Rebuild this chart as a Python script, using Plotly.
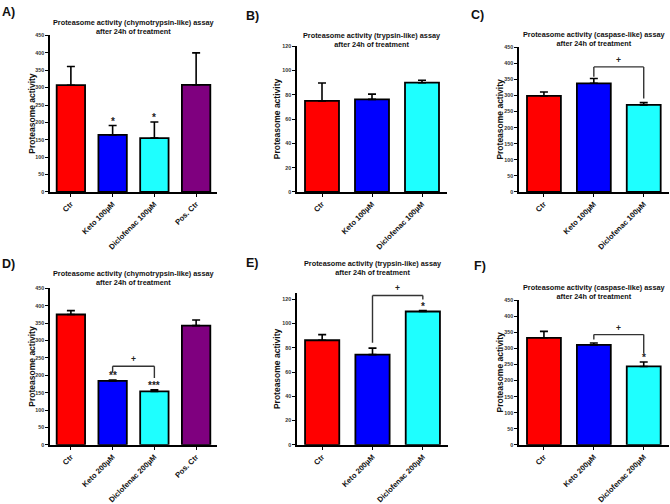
import plotly.graph_objects as go

# ---------------- data ----------------
cats_A = ["Ctr", "Keto 100µM", "Diclofenac 100µM", "Pos. Ctr"]
cats_BC = ["Ctr", "Keto 100µM", "Diclofenac 100µM"]
cats_D = ["Ctr", "Keto 200µM", "Diclofenac 200µM", "Pos. Ctr"]
cats_EF = ["Ctr", "Keto 200µM", "Diclofenac 200µM"]

vals_A = [307, 164, 155, 308]
sem_A = [54, 27, 46, 92]
sig_A = ["", "*", "*", ""]

vals_B = [75, 76.3, 90]
sem_B = [14.8, 4.3, 2]
sig_B = ["", "", ""]

vals_C = [299, 338, 271]
sem_C = [12, 15, 7]
sig_C = ["", "", ""]

vals_D = [375, 184, 154, 343]
sem_D = [11, 2.5, 4.5, 16]
sig_D = ["", "**", "***", ""]

vals_E = [86.3, 74.4, 110]
sem_E = [4.6, 5.4, 0.8]
sig_E = ["", "", "*"]

vals_F = [333, 311, 244]
sem_F = [20, 6, 14]
sig_F = ["", "", "*"]

# brackets: (left idx, right idx, top y, left bottom y, right bottom y, label)
br_C = (1, 2, 389, 358, 291, "+")
br_D = (1, 2, 226, 209, 192, "+")
br_E = (1, 2, 123.2, 84.3, 120, "+")
br_F = (1, 2, 343, 328, 285, "+")

colors4 = ["#FF0000", "#0000FF", "#1EFFFF", "#7F007F"]

title_chymo = "Proteasome activity (chymotrypsin-like) assay<br>after 24h of treatment"
title_tryp = "Proteasome activity (trypsin-like) assay<br>after 24h of treatment"
title_casp = "Proteasome activity (caspase-like) assay<br>after 24h of treatment"
ytitle = "Proteasome activity"

W, H = 670, 504
FONT = "Liberation Sans, Arial, sans-serif"

panels = [
    dict(n=1, cats=cats_A, vals=vals_A, sem=sem_A, sig=sig_A, br=None,
         yr=[0, 450], ytop=450, dt=50, xpx=(50, 217), ypx=(33, 192),
         title=title_chymo, ty=24, letter="A)", lpos=(0, 9), ytx=32),
    dict(n=2, cats=cats_BC, vals=vals_B, sem=sem_B, sig=sig_B, br=None,
         yr=[0, 120], ytop=120, dt=20, xpx=(297, 447), ypx=(44, 192),
         title=title_tryp, ty=37.5, letter="B)", lpos=(244, 13.5), ytx=277),
    dict(n=3, cats=cats_BC, vals=vals_C, sem=sem_C, sig=sig_C, br=br_C,
         yr=[0, 450], ytop=450, dt=50, xpx=(519, 670), ypx=(45, 192),
         title=title_casp, ty=36.5, letter="C)", lpos=(469, 12), ytx=500),
    dict(n=4, cats=cats_D, vals=vals_D, sem=sem_D, sig=sig_D, br=br_D,
         yr=[0, 450], ytop=450, dt=50, xpx=(50, 217), ypx=(290, 449),
         title=title_chymo, ty=279, letter="D)", lpos=(0, 265), ytx=32),
    dict(n=5, cats=cats_EF, vals=vals_E, sem=sem_E, sig=sig_E, br=br_E,
         yr=[0, 125], ytop=120, dt=20, xpx=(297, 448), ypx=(295, 449),
         title=title_tryp, ty=269, letter="E)", lpos=(244, 264), ytx=277),
    dict(n=6, cats=cats_EF, vals=vals_F, sem=sem_F, sig=sig_F, br=br_F,
         yr=[0, 450], ytop=450, dt=50, xpx=(519, 670), ypx=(302, 449),
         title=title_casp, ty=293.5, letter="F)", lpos=(472, 267), ytx=500),
]

fig = go.Figure()
annotations = []
shapes = []

for p in panels:
    n = p["n"]
    xa = "x" if n == 1 else f"x{n}"
    ya = "y" if n == 1 else f"y{n}"
    xpos = list(range(len(p["cats"])))
    fig.add_trace(go.Bar(
        x=xpos, y=p["vals"], xaxis=xa, yaxis=ya,
        width=0.68,
        marker=dict(color=colors4[:len(xpos)], line=dict(color="black", width=1.8)),
        error_y=dict(type="data", symmetric=False, array=p["sem"],
                     arrayminus=[0] * len(xpos), color="black",
                     thickness=1.6, width=4),
        showlegend=False, hoverinfo="skip",
    ))
    x0, x1 = p["xpx"][0] / W, p["xpx"][1] / W
    y0, y1 = 1 - p["ypx"][1] / H, 1 - p["ypx"][0] / H
    xkey = "xaxis" if n == 1 else f"xaxis{n}"
    ykey = "yaxis" if n == 1 else f"yaxis{n}"
    fig.update_layout({
        xkey: dict(domain=[x0, min(x1, 0.998)], anchor=ya, range=[-0.5, len(xpos) - 0.5],
                   tickvals=xpos, ticktext=p["cats"], tickangle=-45,
                   showline=True, linecolor="black", linewidth=1.5,
                   ticks="outside", ticklen=3, tickwidth=1, tickcolor="black",
                   showgrid=False, zeroline=False, fixedrange=True,
                   tickfont=dict(family=FONT, size=7.6, color="#111", weight="bold")),
        ykey: dict(domain=[y0, y1], anchor=xa, range=p["yr"],
                   tickvals=list(range(0, p["ytop"] + 1, p["dt"])),
                   showline=True, linecolor="black", linewidth=1.5,
                   ticks="outside", ticklen=3, tickwidth=1, tickcolor="black",
                   showgrid=False, zeroline=False, fixedrange=True,
                   tickfont=dict(family=FONT, size=5.3, color="#333", weight="bold")),
    })
    for i, s in enumerate(p["sig"]):
        if s:
            annotations.append(dict(
                x=i, y=p["vals"][i] + p["sem"][i], xref=xa, yref=ya,
                text=s, showarrow=False, yanchor="bottom", yshift=-3,
                font=dict(family=FONT, size=10, color="#222", weight="bold")))
    if p["br"]:
        li, ri, top, lb, rb, lab = p["br"]
        lc = dict(color="#333", width=1.4)
        shapes.append(dict(type="line", xref=xa, yref=ya, x0=li, x1=li, y0=lb, y1=top, line=lc))
        shapes.append(dict(type="line", xref=xa, yref=ya, x0=li, x1=ri, y0=top, y1=top, line=lc))
        shapes.append(dict(type="line", xref=xa, yref=ya, x0=ri, x1=ri, y0=rb, y1=top, line=lc))
        annotations.append(dict(
            x=(li + ri) / 2, y=top, xref=xa, yref=ya, text=lab, showarrow=False,
            yanchor="bottom", yshift=0,
            font=dict(family=FONT, size=8.5, color="#222", weight="bold")))
    annotations.append(dict(
        x=(p["xpx"][0] + p["xpx"][1]) / 2 / W, y=1 - p["ty"] / H, xref="paper", yref="paper",
        text=p["title"], showarrow=False, xanchor="center", yanchor="middle",
        font=dict(family=FONT, size=7.3, color="#111", weight="bold")))
    annotations.append(dict(
        x=p["ytx"] / W, y=1 - (p["ypx"][0] + p["ypx"][1]) / 2 / H, xref="paper", yref="paper",
        text=ytitle, textangle=-90, showarrow=False, xanchor="center", yanchor="middle",
        font=dict(family=FONT, size=8.5, color="#111", weight="bold")))
    annotations.append(dict(
        x=p["lpos"][0] / W, y=1 - p["lpos"][1] / H, xref="paper", yref="paper",
        text=p["letter"], showarrow=False, xanchor="left", yanchor="middle",
        font=dict(family=FONT, size=12.5, color="#111", weight="bold")))

fig.update_layout(
    width=W, height=H, margin=dict(l=0, r=0, t=0, b=0),
    paper_bgcolor="white", plot_bgcolor="white",
    annotations=annotations, shapes=shapes, bargap=0.3,
)

fig.write_html(
    "out.html",
    config={"displayModeBar": False},
    post_script="document.body.style.margin='0';document.body.style.overflow='hidden';",
)
